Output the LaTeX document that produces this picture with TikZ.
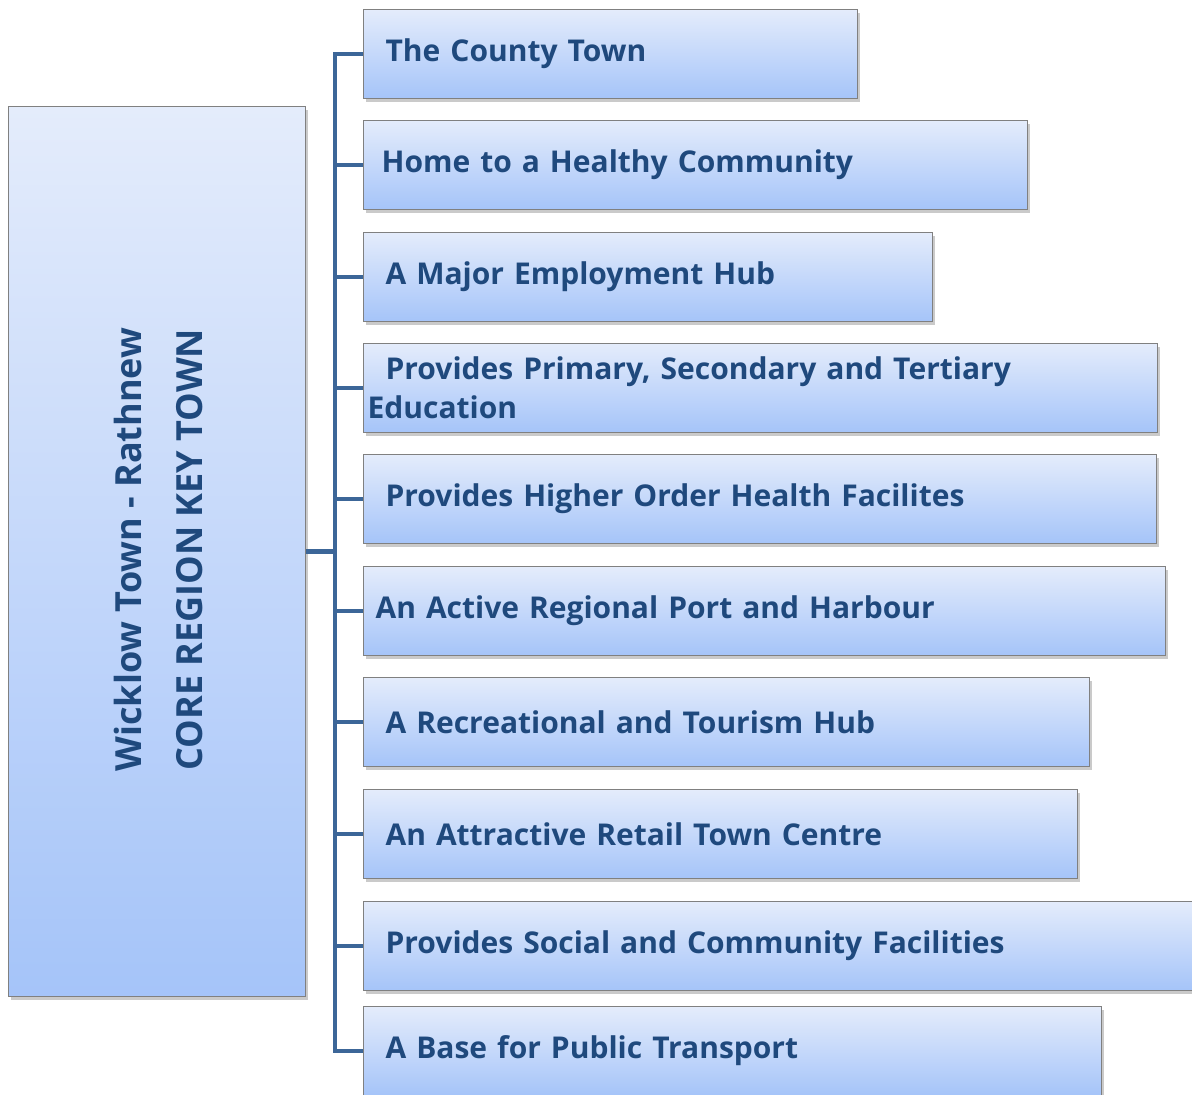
\documentclass[tikz,border=0pt]{standalone}
\usepackage{fontspec}
\setmainfont{Open Sans}
\usetikzlibrary{shadows,positioning}
\definecolor{boxtop}{HTML}{E4ECFB}
\definecolor{boxbot}{HTML}{A5C4F9}
\definecolor{boxline}{HTML}{808080}
\definecolor{inktext}{HTML}{1F497D}
\definecolor{linkblue}{HTML}{3C6698}
\tikzset{
  panel/.style={draw=boxline, line width=1.2pt, top color=boxtop, bottom color=boxbot,
    drop shadow={shadow xshift=2pt, shadow yshift=-3pt, opacity=0.35, fill=black!60}},
  rolebox/.style={panel, anchor=north west, minimum height=89pt, inner xsep=22pt,
    align=left, text=inktext, font=\bfseries\fontsize{30}{39}\selectfont},
  link/.style={draw=linkblue, line width=4.5pt, line join=miter}
}
\begin{document}
\begin{tikzpicture}[x=1pt,y=-1pt]
  \useasboundingbox (0,0) rectangle (1192,1095);
  % left panel
  \node[panel, anchor=north west, minimum width=297pt, minimum height=890pt] (town) at (8,106) {};
  \node[rotate=90, align=center, text=inktext, font=\bfseries\fontsize{36}{61}\selectfont]
    (townlabel) at ([xshift=1pt,yshift=2pt]town.center) {Wicklow Town - Rathnew\\CORE REGION KEY TOWN};
  % the ten roles
  \foreach \i/\ytop/\bw/\txt in {
      1/9/494/{The County Town},
      2/120/664/{\hspace*{-4pt}Home to a Healthy Community},
      3/232/569/{A Major Employment Hub},
      4/343/794/{Provides Primary, Secondary and Tertiary\\\hspace*{-18pt}Education},
      5/454/793/{Provides Higher Order Health Facilites},
      6/566/802/{\hspace*{-10pt}An Active Regional Port and Harbour},
      7/677/726/{A Recreational and Tourism Hub},
      8/789/714/{An Attractive Retail Town Centre},
      9/901/840/{Provides Social and Community Facilities},
      10/1006/738/{A Base for Public Transport}}{
    \pgfmathsetmacro\tw{\bw-44}
    \node[rolebox, minimum width=\bw pt, text width=\tw pt] (role\i) at (363,\ytop) {\txt};
  }
  % connectors
  \foreach \i in {1,...,10}
    \draw[link] (town.east) -- ++(29,0) |- (role\i.west);
\end{tikzpicture}
\end{document}
